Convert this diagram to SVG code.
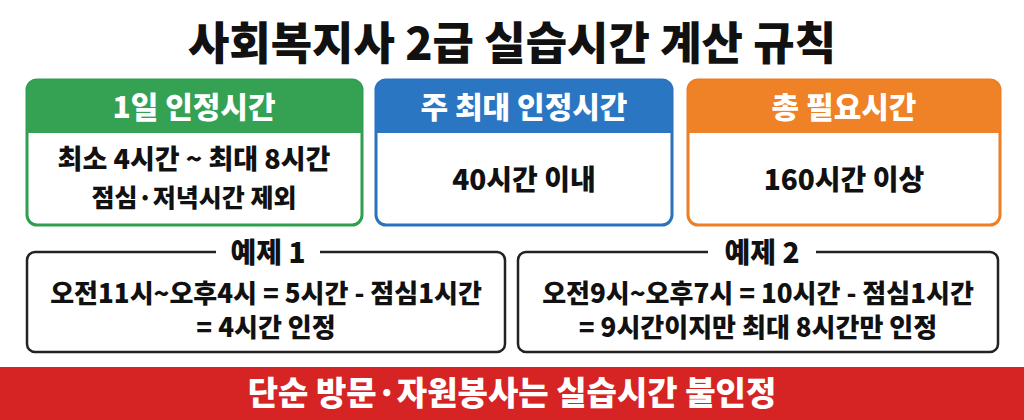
<svg xmlns="http://www.w3.org/2000/svg" width="1024" height="420" viewBox="0 0 1024 420">
<style>
text{font-family:"Noto Sans CJK KR","Noto Sans",sans-serif;font-weight:900;text-anchor:middle;fill:#111}
.h{fill:#fff;font-size:30px}
.b{font-size:28px}
.e{font-size:26px}
.box{fill:#fff;stroke-width:3}
.ex{fill:#fff;stroke:#222;stroke-width:2.5}
</style>
<rect width="1024" height="420" fill="#fff"/>
<text x="512" y="60" style="font-size:45px">사회복지사 2급 실습시간 계산 규칙</text>
<g id="n1">
<rect x="27" y="80" width="335" height="145" rx="10" class="box" stroke="#2f9e4f"/>
<path d="M27 133 V90 a10 10 0 0 1 10 -10 H352 a10 10 0 0 1 10 10 V133 Z" fill="#35a152"/>
<text x="194" y="118" class="h">1일 인정시간</text>
<text x="194" y="169" class="b" style="font-size:27px">최소 4시간 ~ 최대 8시간</text>
<text x="194" y="207" class="b" style="font-size:25px">점심·저녁시간 제외</text>
</g>
<g id="n2">
<rect x="376" y="80" width="296" height="145" rx="10" class="box" stroke="#2a72bd"/>
<path d="M376 133 V90 a10 10 0 0 1 10 -10 H662 a10 10 0 0 1 10 10 V133 Z" fill="#2b76c2"/>
<text x="524" y="118" class="h">주 최대 인정시간</text>
<text x="524" y="190" class="b">40시간 이내</text>
</g>
<g id="n3">
<rect x="688" y="80" width="312" height="145" rx="10" class="box" stroke="#ec7f26"/>
<path d="M688 133 V90 a10 10 0 0 1 10 -10 H990 a10 10 0 0 1 10 10 V133 Z" fill="#ef8126"/>
<text x="844" y="118" class="h">총 필요시간</text>
<text x="844" y="190" class="b">160시간 이상</text>
</g>
<g id="ex1">
<rect x="27" y="252" width="478" height="100" rx="8" class="ex"/>
<rect x="216" y="236" width="104" height="30" fill="#fff"/>
<text x="268" y="263" style="font-size:28px">예제 1</text>
<text x="266" y="303" class="e">오전11시~오후4시 = 5시간 - 점심1시간</text>
<text x="266" y="337" class="e">= 4시간 인정</text>
</g>
<g id="ex2">
<rect x="518" y="252" width="480" height="100" rx="8" class="ex"/>
<rect x="708" y="236" width="108" height="30" fill="#fff"/>
<text x="762" y="263" style="font-size:28px">예제 2</text>
<text x="758" y="303" class="e">오전9시~오후7시 = 10시간 - 점심1시간</text>
<text x="758" y="337" class="e">= 9시간이지만 최대 8시간만 인정</text>
</g>
<g id="banner">
<rect x="0" y="367" width="1024" height="53" fill="#d62424"/>
<text x="512" y="405" style="font-size:33px;fill:#fff">단순 방문·자원봉사는 실습시간 불인정</text>
</g>
<g id="connectors"></g>
</svg>
